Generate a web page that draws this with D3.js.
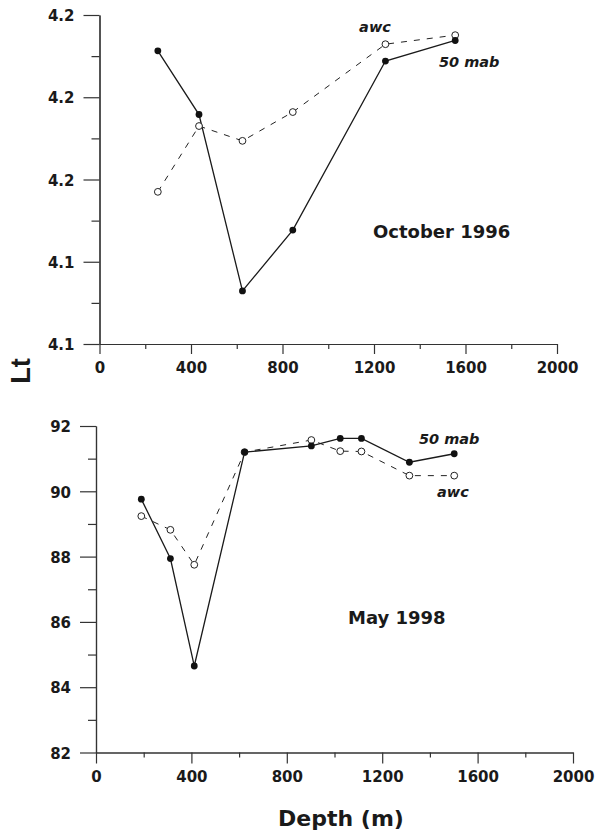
<!DOCTYPE html>
<html>
<head>
<meta charset="utf-8">
<script src="https://cdnjs.cloudflare.com/ajax/libs/d3/7.8.5/d3.min.js"></script>
<style>
	body { margin: 0; background: #fff; }
	.axis text { font: bold 15px "DejaVu Sans", sans-serif; fill: #1a1a1a; }
	.axis path, .axis line { stroke: #333; stroke-width: 1.2; }
	.tag { font: italic bold 14.5px "DejaVu Sans", sans-serif; fill: #1a1a1a; }
	.title { font: bold 18px "DejaVu Sans", sans-serif; fill: #1a1a1a; }
</style>
</head>
<body>
<svg width="598" height="835" id="chart"></svg>
<script>
// shared depth ticks
var xTicks = [0, 400, 800, 1200, 1600, 2000];
var xMinor = [200, 600, 1000, 1400, 1800];

// October 1996
var octDepth = [255, 435, 625, 845, 1250, 1555];
var oct50mab = [4.1913, 4.1758, 4.1329, 4.1477, 4.1888, 4.1938];
var octAwc   = [4.1570, 4.1730, 4.1694, 4.1764, 4.1929, 4.1951];
var octYTicks = [4.12, 4.14, 4.16, 4.18, 4.20];
var octYMinor = [4.13, 4.15, 4.17, 4.19];

// May 1998
var mayDepth = [190, 312, 412, 623, 903, 1024, 1113, 1314, 1502];
var may50mab = [89.76, 87.94, 84.65, 91.20, 91.39, 91.62, 91.62, 90.89, 91.15];
var mayAwc   = [89.24, 88.82, 87.75, 91.20, 91.57, 91.23, 91.22, 90.48, 90.48];
var mayYTicks = [82, 84, 86, 88, 90, 92];
var mayYMinor = [83, 85, 87, 89, 91];

var svg = d3.select("#chart");

function panel(p) {
	var x = d3.scaleLinear().domain([0, 2000]).range([p.left, p.right]);
	var y = d3.scaleLinear().domain(p.yDomain).range([p.bottom, p.top]);
	var g = svg.append("g");

	//minor ticks first
	g.append("g").attr("class", "axis")
		.attr("transform", "translate(0," + p.bottom + ")")
		.call(d3.axisBottom(x).tickValues(xMinor).tickSize(5).tickSizeOuter(0).tickFormat(""));
	g.append("g").attr("class", "axis")
		.attr("transform", "translate(" + p.left + ",0)")
		.call(d3.axisLeft(y).tickValues(p.yMinor).tickSize(8).tickSizeOuter(0).tickFormat(""));

	//major x axis
	var xa = g.append("g").attr("class", "axis")
		.attr("transform", "translate(0," + p.bottom + ")")
		.call(d3.axisBottom(x).tickValues(xTicks).tickSize(p.xTick).tickSizeOuter(0).tickFormat(d3.format("d")));
	xa.selectAll("text").attr("y", 29).attr("dy", null);

	//major y axis
	var ya = g.append("g").attr("class", "axis")
		.attr("transform", "translate(" + p.left + ",0)")
		.call(d3.axisLeft(y).tickValues(p.yTicks).tickSize(16).tickSizeOuter(0).tickFormat(p.fmt));
	ya.selectAll("text").attr("x", -25).attr("dy", "0.38em");

	var line = d3.line()
		.x(function(d) { return x(d[0]); })
		.y(function(d) { return y(d[1]); });

	var awc = p.depth.map(function(d, i) { return [d, p.awc[i]]; });
	var mab = p.depth.map(function(d, i) { return [d, p.mab[i]]; });

	g.append("path").datum(awc)
		.attr("fill", "none").attr("stroke", "#222").attr("stroke-width", 1)
		.attr("stroke-dasharray", "6,7").attr("d", line);
	g.append("path").datum(mab)
		.attr("fill", "none").attr("stroke", "#1a1a1a").attr("stroke-width", 1.3).attr("d", line);

	g.selectAll(".open").data(awc).enter().append("circle")
		.attr("cx", function(d) { return x(d[0]); })
		.attr("cy", function(d) { return y(d[1]); })
		.attr("r", 3.4).attr("fill", "#fff").attr("stroke", "#222").attr("stroke-width", 1);
	g.selectAll(".dot").data(mab).enter().append("circle")
		.attr("cx", function(d) { return x(d[0]); })
		.attr("cy", function(d) { return y(d[1]); })
		.attr("r", 3.4).attr("fill", "#111");

	return g;
}

var octG = panel({left: 99.5, right: 557, top: 15, bottom: 344, yDomain: [4.12, 4.20],
	yTicks: octYTicks, yMinor: octYMinor, fmt: d3.format(".1f"), xTick: 10,
	depth: octDepth, mab: oct50mab, awc: octAwc});
octG.append("text").attr("class", "tag").attr("x", 375).attr("y", 32).attr("text-anchor", "middle").text("awc");
octG.append("text").attr("class", "tag").attr("x", 439).attr("y", 67).text("50 mab");
octG.append("text").attr("class", "title").attr("x", 373).attr("y", 238).text("October 1996");

var mayG = panel({left: 96, right: 573, top: 426, bottom: 752.5, yDomain: [82, 92],
	yTicks: mayYTicks, yMinor: mayYMinor, fmt: d3.format("d"), xTick: 11,
	depth: mayDepth, mab: may50mab, awc: mayAwc});
mayG.append("text").attr("class", "tag").attr("x", 419).attr("y", 444).text("50 mab");
mayG.append("text").attr("class", "tag").attr("x", 437).attr("y", 497).text("awc");
mayG.append("text").attr("class", "title").attr("x", 348).attr("y", 624).text("May 1998");

//axis titles
svg.append("text")
	.attr("transform", "translate(30,371) rotate(-90)")
	.attr("text-anchor", "middle")
	.style("font", "bold 27px 'Liberation Sans', Arial, sans-serif")
	.attr("fill", "#1a1a1a")
	.text("Lt");
svg.append("text")
	.attr("x", 341).attr("y", 826)
	.attr("text-anchor", "middle")
	.style("font", "bold 22px 'DejaVu Sans', sans-serif")
	.attr("fill", "#1a1a1a")
	.text("Depth (m)");
</script>
</body>
</html>
